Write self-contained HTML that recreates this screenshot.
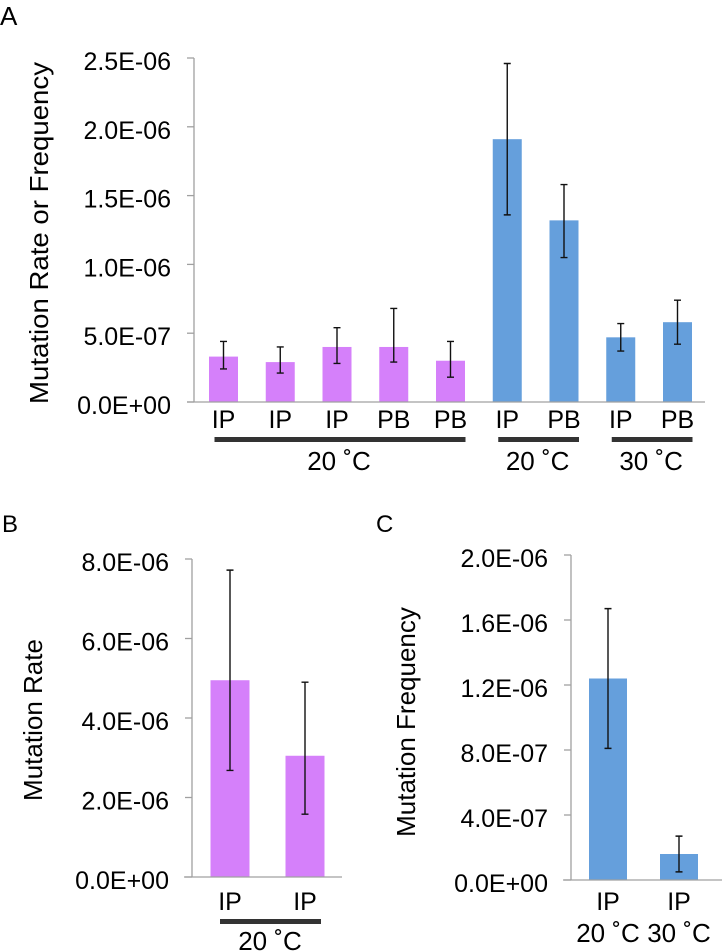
<!DOCTYPE html>
<html><head><meta charset="utf-8"><style>
html,body{margin:0;padding:0;background:#fff;}
svg{display:block;font-family:"Liberation Sans",sans-serif;}
</style></head><body>
<svg id="s" width="722" height="952" viewBox="0 0 722 952">
<text x="0" y="25" font-size="26">A</text>
<text x="2" y="532" font-size="24">B</text>
<text x="376" y="532" font-size="24">C</text>
<text transform="translate(48,233) rotate(-90)" text-anchor="middle" font-size="26" textLength="342" lengthAdjust="spacingAndGlyphs">Mutation Rate or Frequency</text>
<text transform="translate(42,720) rotate(-90)" text-anchor="middle" font-size="26">Mutation Rate</text>
<text transform="translate(415,722) rotate(-90)" text-anchor="middle" font-size="26">Mutation Frequency</text>
<g id="ga"></g>
<g id="gb"></g>
<g id="gc"></g>
</svg>
<script>
// Panel A data
const aCats = ["IP","IP","IP","PB","PB","IP","PB","IP","PB"];
const aVals = [0.33e-6,0.29e-6,0.40e-6,0.40e-6,0.30e-6,1.91e-6,1.32e-6,0.47e-6,0.58e-6];
const aLo = [0.24e-6,0.21e-6,0.28e-6,0.29e-6,0.18e-6,1.36e-6,1.05e-6,0.37e-6,0.42e-6];
const aHi = [0.44e-6,0.40e-6,0.54e-6,0.68e-6,0.44e-6,2.46e-6,1.58e-6,0.57e-6,0.74e-6];
const aColors = ["p","p","p","p","p","b","b","b","b"];
const aTicks = ["0.0E+00","5.0E-07","1.0E-06","1.5E-06","2.0E-06","2.5E-06"];
const aTickVals = [0,0.5e-6,1.0e-6,1.5e-6,2.0e-6,2.5e-6];
const aGroups = ["20 \u02DAC","20 \u02DAC","30 \u02DAC"];
const aGroupStart = [0,5,7];
const aGroupEnd = [4,6,8];
// Panel B data
const bCats = ["IP","IP"];
const bVals = [4.95e-6,3.05e-6];
const bLo = [2.68e-6,1.58e-6];
const bHi = [7.72e-6,4.90e-6];
const bTicks = ["0.0E+00","2.0E-06","4.0E-06","6.0E-06","8.0E-06"];
const bTickVals = [0,2e-6,4e-6,6e-6,8e-6];
// Panel C data
const cCats = ["IP","IP"];
const cSub = ["20 \u02DAC","30 \u02DAC"];
const cVals = [1.24e-6,0.16e-6];
const cLo = [0.81e-6,0.05e-6];
const cHi = [1.67e-6,0.27e-6];
const cTicks = ["0.0E+00","4.0E-07","8.0E-07","1.2E-06","1.6E-06","2.0E-06"];
const cTickVals = [0,0.4e-6,0.8e-6,1.2e-6,1.6e-6,2.0e-6];

const NS="http://www.w3.org/2000/svg";
const PURPLE="#d580fa", BLUE="#659fdc";
function mk(p,tag,attrs,txt){const e=document.createElementNS(NS,tag);for(const k in attrs)e.setAttribute(k,attrs[k]);if(txt!==undefined)e.textContent=txt;p.appendChild(e);return e;}

function chart(g,o){
  const y=v=>o.y0-(v/o.max)*(o.y0-o.yTop);
  const x=i=>o.x0+o.step*i;
  const ax=mk(g,'line',{x1:o.axisX,x2:o.axisX,y1:o.yTop,y2:o.y0,stroke:'#a0a0a0','stroke-width':1.3});
  
  
  o.tickVals.forEach((tv,i)=>{
    const t=mk(g,'line',{x1:o.axisX-7,x2:o.axisX,y1:y(tv),y2:y(tv),stroke:'#a0a0a0','stroke-width':1.3});
    
    
    const l=mk(g,'text',{x:o.axisX-23,y:y(tv)+12,'text-anchor':'end','font-size':25},o.ticks[i]);
    
    
  });
  o.vals.forEach((v,i)=>{
    const cx=x(i);
    const r=mk(g,'rect',{x:cx-o.bw/2,y:y(v),width:o.bw,height:o.y0-y(v),fill:o.colors[i]});
    
    
    const e=mk(g,'path',{d:`M${cx},${y(o.hi[i])}V${y(o.lo[i])}M${cx-3.5},${y(o.hi[i])}h7M${cx-3.5},${y(o.lo[i])}h7`,stroke:'#111','stroke-width':1.4,fill:'none'});
    
    
    const c=mk(g,'text',{x:cx,y:o.catY,'text-anchor':'middle','font-size':25},o.cats[i]);
    
    
  });
  const xa=mk(g,'line',{x1:o.axL,x2:o.axR,y1:o.y0,y2:o.y0,stroke:'#a0a0a0','stroke-width':1.3});
  
  
  return x;
}
const xa=chart(document.getElementById('ga'),{x0:223.5,step:56.75,bw:29,y0:402,yTop:58,max:2.5e-6,axisX:194,axL:187,axR:705,tickVals:aTickVals,ticks:aTicks,vals:aVals,lo:aLo,hi:aHi,colors:aColors.map(c=>c==="p"?PURPLE:BLUE),cats:aCats,catY:428});
const ga=document.getElementById('ga');
aGroups.forEach((gname,i)=>{
  const l=mk(ga,'rect',{x:xa(aGroupStart[i])-9,y:437,width:xa(aGroupEnd[i])-xa(aGroupStart[i])+24,height:5,fill:'#333'});
  
  
  const t=mk(ga,'text',{x:(xa(aGroupStart[i])+xa(aGroupEnd[i]))/2+2,y:470,'text-anchor':'middle','font-size':26},gname);
  
  
});
const xb=chart(document.getElementById('gb'),{x0:230,step:75,bw:39,y0:877,yTop:559,max:8e-6,axisX:192,axL:184,axR:342,tickVals:bTickVals,ticks:bTicks,vals:bVals,lo:bLo,hi:bHi,colors:[PURPLE,PURPLE],cats:bCats,catY:910});
const gb=document.getElementById('gb');
const bl=mk(gb,'rect',{x:220,y:919,width:101,height:5,fill:'#333'});


const bt=mk(gb,'text',{x:270,y:950,'text-anchor':'middle','font-size':26},"20 \u02DAC");


const xc=chart(document.getElementById('gc'),{x0:608,step:71,bw:38,y0:880,yTop:555,max:2e-6,axisX:571,axL:563,axR:722,tickVals:cTickVals,ticks:cTicks,vals:cVals,lo:cLo,hi:cHi,colors:[BLUE,BLUE],cats:cCats,catY:910});
const gc=document.getElementById('gc');
cSub.forEach((s,i)=>{
  const t=mk(gc,'text',{x:xc(i),y:942,'text-anchor':'middle','font-size':26},s);
  
  
});
</script>
</body></html>
